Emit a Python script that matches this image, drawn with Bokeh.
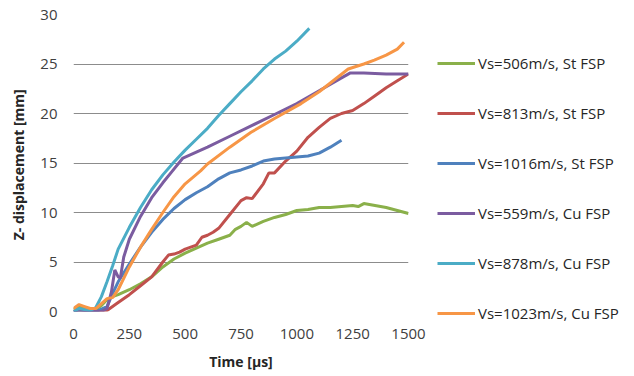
from bokeh.plotting import figure
from bokeh.models import Legend, LegendItem, FixedTicker
from bokeh.embed import file_html
from bokeh.resources import INLINE

labels = ["Vs=506m/s, St FSP", "Vs=813m/s, St FSP", "Vs=1016m/s, St FSP",
          "Vs=559m/s, Cu FSP", "Vs=878m/s, Cu FSP", "Vs=1023m/s, Cu FSP"]
colors = ["#8AB04A", "#C0504D", "#4F81BD", "#7B5CA0", "#4BACC6", "#F79646"]

t_g = [0, 25, 50, 75, 100, 125, 150, 175, 200, 250, 300, 350, 400, 450, 500, 550, 600, 650, 700, 725, 750, 775, 800, 850, 900, 950, 1000, 1050, 1100, 1150, 1200, 1250, 1275, 1300, 1350, 1400, 1450, 1500]
z_g = [0.2, 0.5, 0.3, 0.2, 0.2, 0.6, 1.2, 1.5, 1.7, 2.2, 2.8, 3.5, 4.5, 5.3, 5.9, 6.4, 6.9, 7.3, 7.7, 8.3, 8.6, 9.0, 8.6, 9.1, 9.5, 9.8, 10.2, 10.3, 10.5, 10.5, 10.6, 10.7, 10.6, 10.9, 10.7, 10.5, 10.2, 9.9]

t_r = [0, 50, 100, 150, 200, 250, 300, 350, 400, 425, 450, 475, 500, 550, 575, 600, 625, 650, 700, 750, 775, 800, 850, 875, 900, 950, 1000, 1050, 1100, 1150, 1200, 1250, 1300, 1350, 1400, 1450, 1500]
z_r = [0, 0, 0, 0.1, 0.9, 1.7, 2.6, 3.5, 5.0, 5.7, 5.8, 6.0, 6.3, 6.7, 7.5, 7.7, 8.0, 8.4, 9.8, 11.2, 11.5, 11.4, 12.9, 14.0, 14.0, 15.2, 16.2, 17.6, 18.6, 19.5, 20.0, 20.3, 21.0, 21.8, 22.6, 23.3, 24.0]

t_b = [0, 50, 100, 150, 175, 200, 250, 300, 350, 400, 450, 500, 550, 600, 650, 700, 750, 800, 850, 900, 950, 1000, 1050, 1100, 1150, 1200]
z_b = [0, 0, 0, 0.5, 1.8, 3.0, 4.8, 6.5, 8.0, 9.3, 10.4, 11.3, 12.0, 12.6, 13.4, 14.0, 14.3, 14.7, 15.2, 15.4, 15.5, 15.6, 15.7, 16.0, 16.6, 17.3]

t_p = [0, 25, 50, 75, 100, 125, 150, 170, 185, 200, 210, 225, 250, 300, 350, 400, 436, 490, 550, 600, 700, 800, 900, 1000, 1100, 1200, 1240, 1300, 1400, 1500]
z_p = [0, 0.2, 0.1, 0, 0, 0, 0.3, 2.0, 4.2, 3.5, 3.4, 5.5, 7.3, 9.6, 11.5, 13.0, 14.0, 15.5, 16.1, 16.6, 17.7, 18.8, 19.9, 21.0, 22.3, 23.6, 24.1, 24.1, 24.0, 24.0]

t_c = [0, 25, 50, 75, 100, 125, 150, 175, 200, 250, 300, 350, 400, 450, 500, 550, 600, 650, 700, 750, 800, 850, 900, 950, 1000, 1056]
z_c = [0, 0.3, 0.2, 0.1, 0.4, 1.5, 3.0, 4.6, 6.3, 8.5, 10.5, 12.3, 13.8, 15.1, 16.3, 17.4, 18.5, 19.8, 21.0, 22.2, 23.3, 24.5, 25.5, 26.3, 27.3, 28.6]

t_o = [0, 25, 50, 75, 100, 125, 150, 175, 200, 250, 300, 350, 400, 450, 500, 569, 600, 700, 795, 900, 1019, 1100, 1230, 1300, 1347, 1400, 1450, 1480]
z_o = [0.3, 0.7, 0.5, 0.3, 0.3, 0.8, 1.3, 1.4, 2.2, 4.5, 6.5, 8.3, 10.0, 11.6, 12.9, 14.2, 14.9, 16.6, 18.1, 19.5, 21.0, 22.2, 24.5, 25.0, 25.4, 25.9, 26.5, 27.2]

x_ticks = [0, 250, 500, 750, 1000, 1250, 1500]
y_ticks = [0, 5, 10, 15, 20, 25, 30]

series = [(t_g, z_g), (t_r, z_r), (t_b, z_b), (t_p, z_p), (t_c, z_c), (t_o, z_o)]

p = figure(frame_width=335, frame_height=297, x_range=(0, 1500), y_range=(0, 30),
           output_backend="svg", toolbar_location=None,
           min_border_left=73, min_border_right=224, min_border_top=14, min_border_bottom=64)
p.outline_line_color = None
p.background_fill_color = "white"
p.border_fill_color = "white"

items = []
for (t, z), lab, col in zip(series, labels, colors):
    r = p.line(t, z, line_color=col, line_width=3)
    items.append(LegendItem(label=lab, renderers=[r]))

font = "Open Sans"
for ax in (p.xaxis[0], p.yaxis[0]):
    ax.axis_line_color = None
    ax.major_tick_line_color = None
    ax.minor_tick_line_color = None
    ax.major_tick_out = 0
    ax.major_tick_in = 0
    ax.major_label_text_font = font
    ax.major_label_text_font_size = "15px"
    ax.major_label_text_color = "#404040"
    ax.axis_label_text_font = font
    ax.axis_label_text_font_style = "bold"
    ax.axis_label_text_font_size = "14px"
    ax.axis_label_text_color = "#262626"

p.xaxis.ticker = FixedTicker(ticks=x_ticks)
p.yaxis.ticker = FixedTicker(ticks=y_ticks)
p.xaxis.axis_label = "Time [μs]"
p.yaxis.axis_label = "Z- displacement  [mm]"
p.xaxis.major_label_standoff = 17
p.yaxis.major_label_standoff = 16
p.xaxis.axis_label_standoff = 10
p.yaxis.axis_label_standoff = 9

p.xgrid.grid_line_color = None
p.ygrid.grid_line_color = "#8C8C8C"
p.ygrid.grid_line_width = 1

legend = Legend(items=items, location="top_left", orientation="vertical",
                padding=0, margin=29, spacing=10, label_height=40, glyph_height=40,
                glyph_width=38, label_standoff=3,
                label_text_font=font, label_text_font_size="15px",
                label_text_color="#262626",
                border_line_color=None, background_fill_alpha=0)
p.add_layout(legend, "right")

open("out.html", "w").write(file_html(p, INLINE))
